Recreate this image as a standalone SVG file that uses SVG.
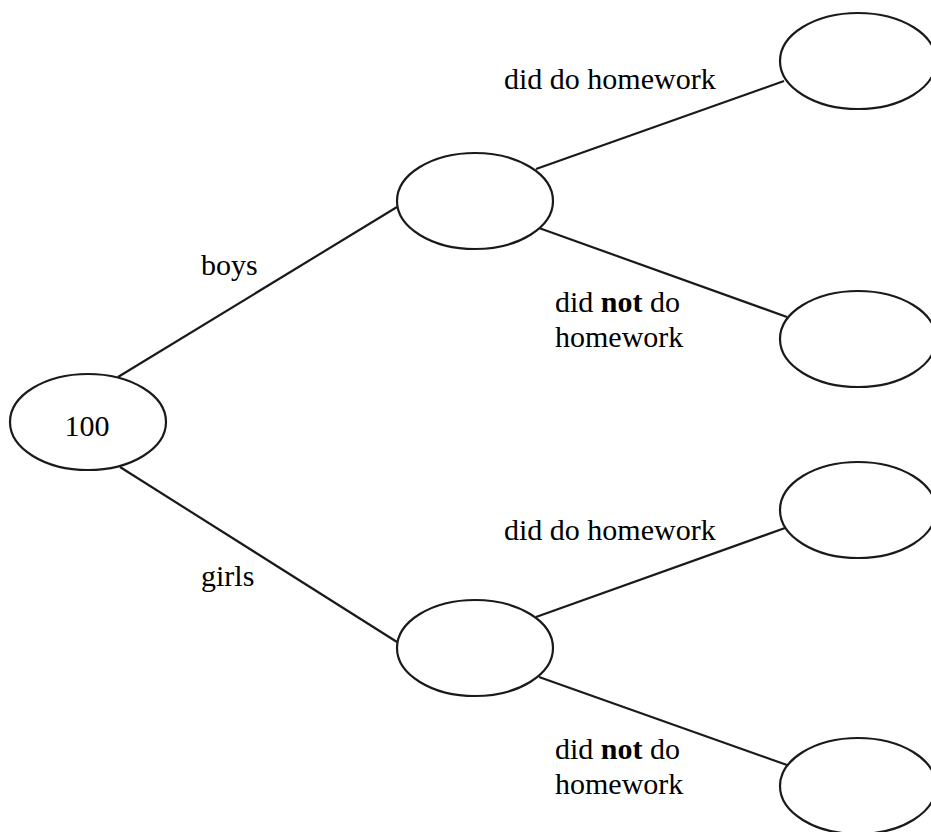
<svg xmlns="http://www.w3.org/2000/svg" width="931" height="832" viewBox="0 0 931 832">
<style>
.n{fill:#fff;stroke:#1a1a1a;stroke-width:2.2}
.c line{stroke:#1a1a1a;stroke-width:2.2}
.t{font-family:"Liberation Serif","Times New Roman",serif;font-size:30px;fill:#000}
.b{font-weight:bold}
</style>
<rect width="931" height="832" fill="#fff"/>
<g class="c" id="connectors">
<line x1="118" y1="377" x2="397" y2="207"/>
<line x1="120" y1="467" x2="397" y2="642"/>
<line x1="536" y1="169" x2="784" y2="81"/>
<line x1="539" y1="228" x2="787" y2="317"/>
<line x1="536" y1="617" x2="785" y2="528"/>
<line x1="539" y1="677" x2="787" y2="765"/>
</g>
<g id="root"><ellipse class="n" cx="88" cy="422" rx="78" ry="48"/><text class="t" font-family="Liberation Serif" x="87" y="436" text-anchor="middle">100</text></g>
<g id="boys"><ellipse class="n" cx="475" cy="201" rx="78" ry="48"/></g>
<g id="girls"><ellipse class="n" cx="475" cy="648" rx="78" ry="48"/></g>
<g id="boys-hw"><ellipse class="n" cx="858" cy="61" rx="78" ry="48"/></g>
<g id="boys-nohw"><ellipse class="n" cx="858" cy="339" rx="78" ry="48"/></g>
<g id="girls-hw"><ellipse class="n" cx="858" cy="510" rx="78" ry="48"/></g>
<g id="girls-nohw"><ellipse class="n" cx="858" cy="786" rx="78" ry="48"/></g>
<g id="labels" class="t" font-family="Liberation Serif">
<text x="201" y="275">boys</text>
<text x="201" y="586">girls</text>
<text x="504" y="89">did do homework</text>
<text x="555" y="312">did <tspan class="b">not</tspan> do</text>
<text x="555" y="347">homework</text>
<text x="504" y="540">did do homework</text>
<text x="555" y="759">did <tspan class="b">not</tspan> do</text>
<text x="555" y="794">homework</text>
</g>
</svg>
